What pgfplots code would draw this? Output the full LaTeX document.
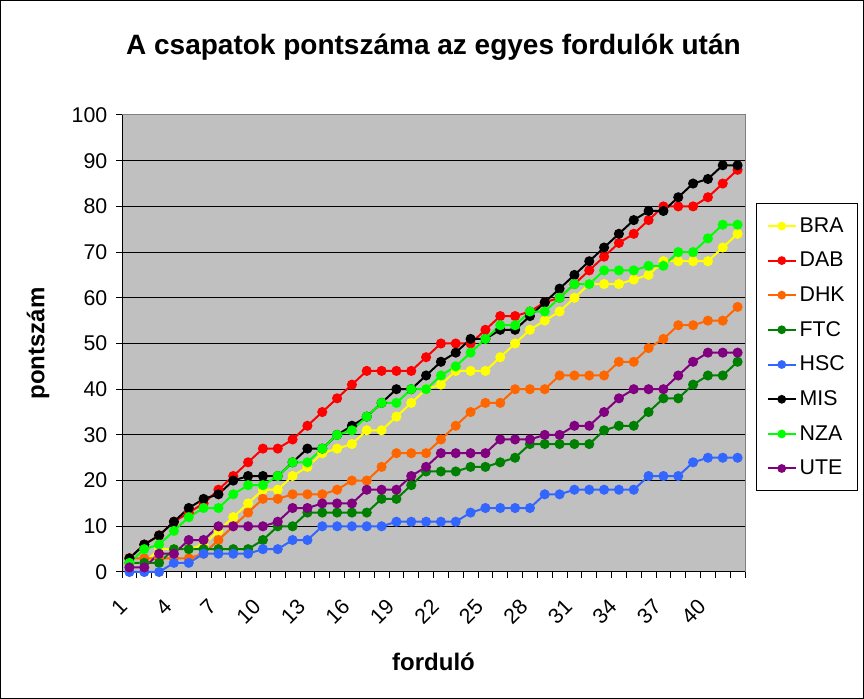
\documentclass[border=0pt]{standalone}
\usepackage{fontspec}
\setmainfont{Liberation Sans}
\usepackage{pgfplots}
\usepackage{pgfplotstable}
\pgfplotsset{compat=1.18}

\definecolor{cBRA}{HTML}{FFFF00}
\definecolor{cDAB}{HTML}{FF0000}
\definecolor{cDHK}{HTML}{FF6600}
\definecolor{cFTC}{HTML}{008000}
\definecolor{cHSC}{HTML}{3366FF}
\definecolor{cMIS}{HTML}{000000}
\definecolor{cNZA}{HTML}{00FF00}
\definecolor{cUTE}{HTML}{800080}
\definecolor{plotbg}{HTML}{C0C0C0}

% points after each round
\pgfplotstableread{
r  BRA DAB DHK FTC HSC MIS NZA UTE
1   2   3   3   2   0   3   2   1
2   2   6   3   2   0   6   5   1
3   5   8   3   2   0   8   6   4
4   5  11   3   5   2  11   9   4
5   5  13   3   5   2  14  12   7
6   6  15   4   5   4  16  14   7
7   9  18   7   5   4  17  14  10
8  12  21  10   5   4  20  17  10
9  15  24  13   5   4  21  19  10
10 18  27  16   7   5  21  19  10
11 18  27  16  10   5  21  21  11
12 21  29  17  10   7  24  24  14
13 23  32  17  13   7  27  24  14
14 26  35  17  13  10  27  27  15
15 27  38  18  13  10  30  30  15
16 28  41  20  13  10  32  31  15
17 31  44  20  13  10  34  34  18
18 31  44  23  16  10  37  37  18
19 34  44  26  16  11  40  37  18
20 37  44  26  19  11  40  40  21
21 40  47  26  22  11  43  40  23
22 41  50  29  22  11  46  43  26
23 44  50  32  22  11  48  45  26
24 44  50  35  23  13  51  48  26
25 44  53  37  23  14  51  51  26
26 47  56  37  24  14  53  54  29
27 50  56  40  25  14  53  54  29
28 53  57  40  28  14  56  57  29
29 55  59  40  28  17  59  57  30
30 57  60  43  28  17  62  60  30
31 60  63  43  28  18  65  63  32
32 63  66  43  28  18  68  63  32
33 63  69  43  31  18  71  66  35
34 63  72  46  32  18  74  66  38
35 64  74  46  32  18  77  66  40
36 65  77  49  35  21  79  67  40
37 68  80  51  38  21  79  67  40
38 68  80  54  38  21  82  70  43
39 68  80  54  41  24  85  70  46
40 68  82  55  43  25  86  73  48
41 71  85  55  43  25  89  76  48
42 74  88  58  46  25  89  76  48
}\points

\begin{document}
\begin{tikzpicture}
\draw[line width=0.75pt] (0.375pt,0.375pt) rectangle (647.625pt,523.875pt);
\begin{axis}[
    at={(91.5pt,95.25pt)}, anchor=south west,
    scale only axis, width=467.25pt, height=342.75pt,
    xmin=0.5, xmax=42.5, ymin=0, ymax=100,
    clip=false,
    axis background/.style={fill=plotbg},
    axis line style={draw=gray, line width=0.75pt},
    title={A csapatok pontszáma az egyes fordulók után},
    title style={font=\bfseries\fontsize{21}{25}\selectfont,
        at={(axis description cs:0.5,1)}, anchor=base, yshift=39.5pt},
    xlabel={forduló},
    xlabel style={font=\bfseries\fontsize{18}{21}\selectfont,
        at={(axis description cs:0.5,-0.197)}, anchor=center},
    ylabel={pontszám},
    ylabel style={font=\bfseries\fontsize{18}{21}\selectfont,
        at={(axis description cs:-0.1348,0.5)}, anchor=center},
    xtick={0.5,1.5,...,42.5},
    xticklabels={},
    extra x ticks={1,4,7,10,13,16,19,22,25,28,31,34,37,40},
    extra x tick labels={1,4,7,10,13,16,19,22,25,28,31,34,37,40},
    extra x tick style={major tick length=0pt,
        xticklabel style={xshift=-2pt, yshift=-21pt, rotate=45, anchor=east}},
    ytick={0,10,...,100},
    yticklabel style={xshift=-3pt},
    tick align=outside, tick pos=left,
    major tick length=4.5pt,
    tick style={black, line width=0.75pt},
    ymajorgrids=true,
    major grid style={black, line width=0.75pt},
    /pgf/number format/assume math mode=true,
    ticklabel style={font=\fontsize{16}{19}\selectfont},
    legend style={at={(axis description cs:1.0177,0.807)}, anchor=north west,
        draw=black, line width=0.75pt, fill=white,
        font=\fontsize{16}{19}\selectfont, row sep=9.4pt,
        inner xsep=7.5pt, inner ysep=8.5pt},
    legend cell align=left,
    legend image code/.code={
        \draw[mark repeat=2, mark phase=2, mark size=2.5pt]
        plot coordinates {(0cm,0cm) (0.375cm,0cm) (0.75cm,0cm)};},
    every axis plot/.append style={line width=1.5pt, mark=*, mark size=3pt,
        mark options={solid}},
]
\draw[black, line width=0.75pt] (rel axis cs:0,1) -- (rel axis cs:0,0) -- (rel axis cs:1,0);
\addplot[color=cBRA] table[x=r, y=BRA] {\points};
\addplot[color=cDAB] table[x=r, y=DAB] {\points};
\addplot[color=cDHK] table[x=r, y=DHK] {\points};
\addplot[color=cFTC] table[x=r, y=FTC] {\points};
\addplot[color=cHSC] table[x=r, y=HSC] {\points};
\addplot[color=cMIS] table[x=r, y=MIS] {\points};
\addplot[color=cNZA] table[x=r, y=NZA] {\points};
\addplot[color=cUTE] table[x=r, y=UTE] {\points};
\legend{BRA, DAB, DHK, FTC, HSC, MIS, NZA, UTE}
\end{axis}
\end{tikzpicture}
\end{document}
